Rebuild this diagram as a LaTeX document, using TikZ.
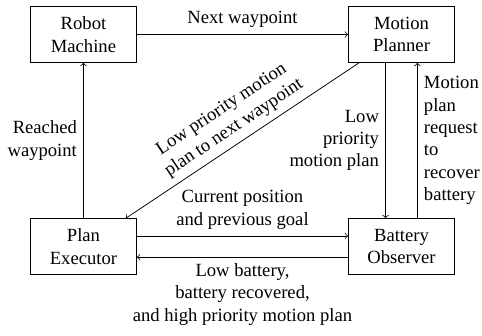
\documentclass[tikz,border=0pt]{standalone}
\usepackage{fontspec}
\setmainfont{Liberation Serif}
\begin{document}
\begin{tikzpicture}[
    module/.style={rectangle, draw, minimum width=2cm, minimum height=1.05cm, align=center},
    arrow/.style={->}
]
    \useasboundingbox (-1.575, -5.670) rectangle (7.519, 0.651);

    % Modules
    \node[module] (rm) at (0, 0) {Robot\\Machine};
    \node[module] (mp) at (6, 0) {Motion\\Planner};
    \node[module] (pe) at (0, -4) {Plan\\Executor};
    \node[module] (bo) at (6, -4) {Battery\\Observer};

    % Messages
    \draw[arrow] (rm) -- node[above] {Next waypoint} (mp);
    \draw[arrow] (pe) -- node[left, align=right] {Reached\\waypoint} (rm);
    \draw[arrow] (mp) -- node[midway, above, sloped, align=center] {Low priority motion\\plan to next waypoint} (pe);
    \draw[arrow] ([xshift=-3mm]mp.south) -- node[left, align=right] {Low\\priority\\motion plan} ([xshift=-3mm]bo.north);
    \draw[arrow] ([xshift=3mm]bo.north) -- node[right, align=left] {Motion\\plan\\request\\to\\recover\\battery} ([xshift=3mm]mp.south);
    \draw[arrow] ([yshift=2mm]pe.east) -- node[above, align=center] {Current position\\and previous goal} ([yshift=2mm]bo.west);
    \draw[arrow] ([yshift=-2mm]bo.west) -- node[below, align=center] {Low battery,\\battery recovered,\\and high priority motion plan} ([yshift=-2mm]pe.east);

\end{tikzpicture}
\end{document}
